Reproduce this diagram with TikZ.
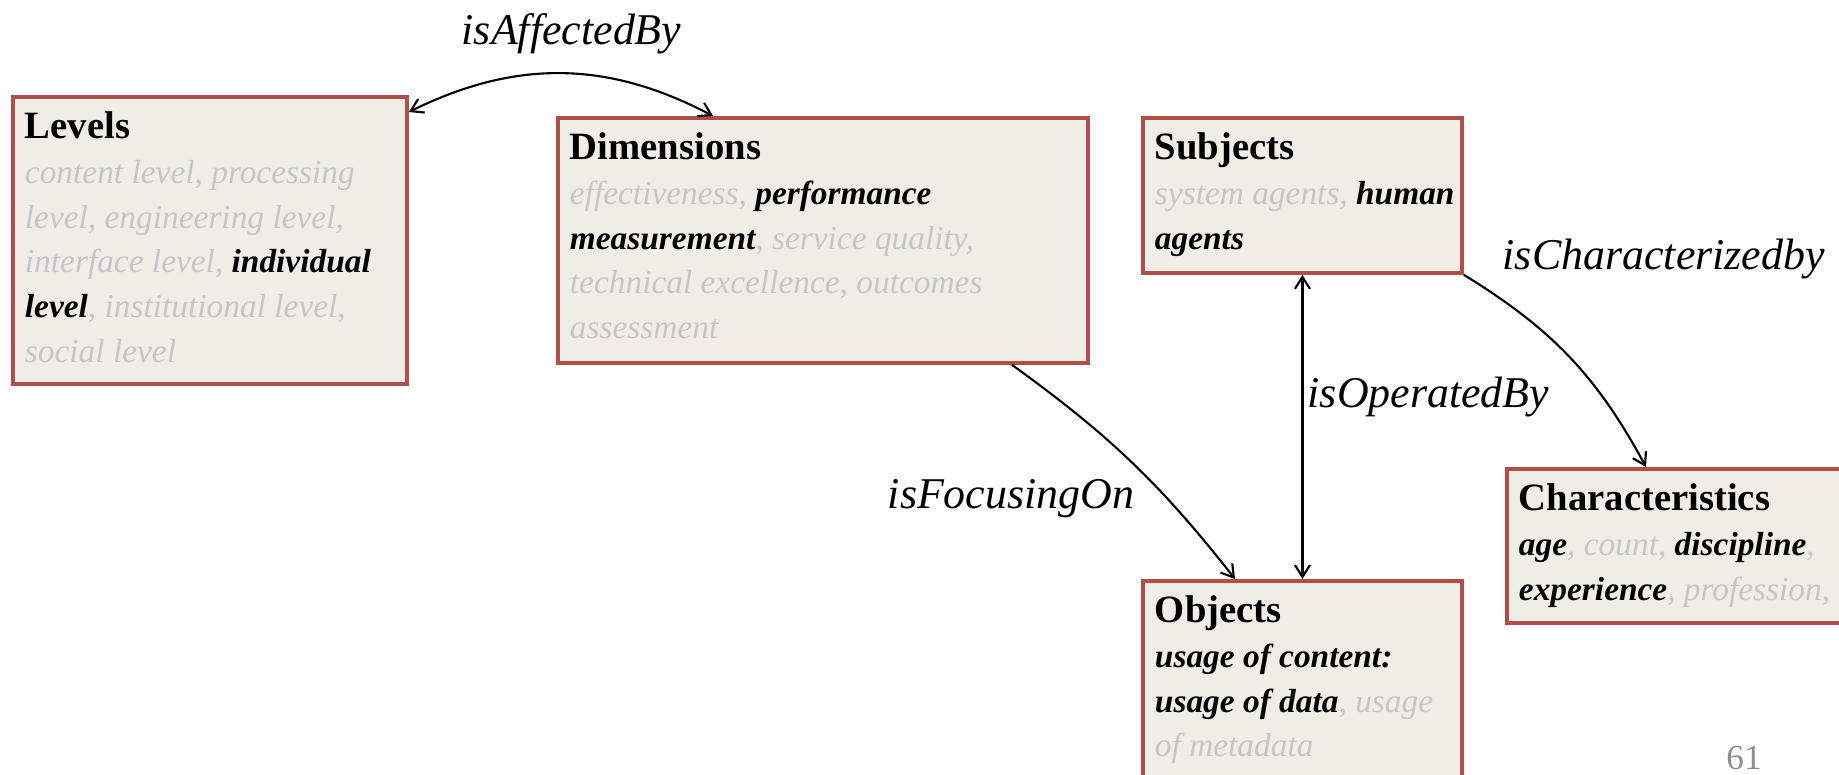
\documentclass[tikz,border=0pt]{standalone}
\usepackage{fontspec}
\setmainfont{Liberation Serif}
\usetikzlibrary{positioning,arrows.meta}

\definecolor{boxred}{HTML}{B24E48}
\definecolor{boxfill}{HTML}{EFEEE6}
\definecolor{fadegray}{HTML}{C6C6C6}
\definecolor{pagegray}{HTML}{8E8E8E}

% faded (gray) and highlighted (bold) entries
\newcommand{\faded}[1]{\textcolor{fadegray}{#1}}
\newcommand{\hilite}[1]{\textbf{#1}}
% box content: width, height, title, entries
\newcommand{\boxtext}[4]{\parbox[t][#2][t]{#1}{\raggedright\fontsize{9.5}{12.7}\selectfont
    \rule{0pt}{0.42cm}{\fontsize{11}{12.7}\selectfont\textbf{#3}}\\ \itshape #4}}

\begin{document}
\begin{tikzpicture}
    \tikzset{
        concept/.style = {rectangle, draw=boxred, fill=boxfill, line width=1.1pt, anchor=north west,
                          inner xsep=0.12cm, inner ysep=0pt},
        rel/.style = {inner sep=0pt, font=\fontsize{12.5}{15}\selectfont\itshape},
        link/.style = {line width=0.6pt, >={Straight Barb[length=1.2mm,width=1.5mm]}},
    }
    \useasboundingbox (0,0) rectangle (18.39,-7.75);

    \node (lev) [concept] at (0.11,-0.95) {\boxtext{3.70cm}{2.87cm}{Levels}{%
        \faded{content level, processing}\\
        \faded{level, engineering level,}\\
        \faded{interface level,} \hilite{individual}\\
        \hilite{level}\faded{, institutional level,}\\
        \faded{social level}}};
    \node (dim) [concept] at (5.56,-1.16) {\boxtext{5.06cm}{2.45cm}{Dimensions}{%
        \faded{effectiveness,} \hilite{performance}\\
        \hilite{measurement}\faded{, service quality,}\\
        \faded{technical excellence, outcomes}\\
        \faded{assessment}}};
    \node (sub) [concept] at (11.41,-1.16) {\boxtext{2.95cm}{1.55cm}{Subjects}{%
        \mbox{\faded{system agents,} \hilite{human}}\\
        \hilite{agents}}};
    \node (obj) [concept] at (11.41,-5.79) {\boxtext{2.95cm}{2.60cm}{Objects}{%
        \hilite{usage of content:}\\
        \hilite{usage of data}\faded{, usage}\\
        \faded{of metadata}}};
    \node (chr) [concept] at (15.05,-4.67) {\boxtext{3.90cm}{1.54cm}{Characteristics}{%
        \hilite{age}\faded{, count,} \hilite{discipline}\faded{,}\\
        \hilite{experience}\faded{, profession,}}};

    % relation labels
    \node (affected) [rel, anchor=base west] at (4.61,-0.45) {isAffectedBy};
    \node (operated) [rel, anchor=base west] at (13.07,-4.08) {isOperatedBy};
    \node (characterized) [rel, anchor=base west] at (15.02,-2.70) {isCharacterizedby};
    \node (focusing) [rel, anchor=base east] at (11.35,-5.09) {isFocusingOn};

    \node (page) [anchor=base, inner sep=0pt, text=pagegray, font=\fontsize{10}{12}\selectfont] at (17.44,-7.70) {61};

    \draw [link, <->] ([yshift=-0.17cm]lev.north east) to[bend left=27] ([xshift=1.57cm]dim.north west);
    \draw [link, ->] ([xshift=4.56cm]dim.south west) to[bend left=8] ([xshift=0.94cm]obj.north west);
    \draw [link, <->] (sub.south) -- (obj.north);
    \draw [link, ->] (sub.south east) to[bend left=15] ([xshift=1.41cm]chr.north west);
\end{tikzpicture}
\end{document}
